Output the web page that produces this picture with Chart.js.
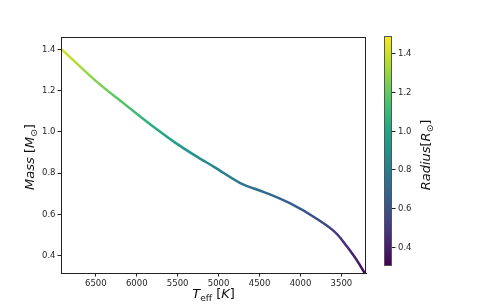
<!DOCTYPE html>
<html>
<head>
<meta charset="utf-8">
<script src="https://cdn.jsdelivr.net/npm/chart.js@4.4.1/dist/chart.umd.min.js"></script>
<style>
  body { margin: 0; background: #fff; }
  canvas { display: block; }
</style>
</head>
<body>
<canvas id="massChart" width="491" height="307"></canvas>
<script>
// effective temperature (K), stellar mass (Msun) and radius (Rsun) along the track
const teff = [6916, 6447, 6203, 5958, 5775, 5531, 5286, 5042, 4736, 4431, 4125, 3798, 3554, 3432, 3309, 3216];
const mass = [1.400, 1.229, 1.152, 1.075, 1.019, 0.948, 0.885, 0.827, 0.752, 0.706, 0.653, 0.578, 0.505, 0.444, 0.376, 0.316];
const radius = [1.42, 1.25, 1.17, 1.09, 1.03, 0.96, 0.90, 0.84, 0.76, 0.71, 0.66, 0.58, 0.51, 0.45, 0.38, 0.31];

const xTicks = [6500, 6000, 5500, 5000, 4500, 4000, 3500];
const yTicks = [0.4, 0.6, 0.8, 1.0, 1.2, 1.4];
const cbTicks = [0.4, 0.6, 0.8, 1.0, 1.2, 1.4];
const cbMin = 0.30;
const cbMax = 1.49;

// viridis colormap anchors
const viridis = ['#440154', '#482475', '#414487', '#355f8d', '#2a788e', '#21918c',
  '#22a884', '#44bf70', '#7ad151', '#bddf26', '#fde725'];

function hexToRgb(h) {
  return [parseInt(h.slice(1, 3), 16), parseInt(h.slice(3, 5), 16), parseInt(h.slice(5, 7), 16)];
}

function viridisColor(t) {
  t = Math.min(1, Math.max(0, t));
  const pos = t * (viridis.length - 1);
  const i = Math.min(viridis.length - 2, Math.floor(pos));
  const f = pos - i;
  const a = hexToRgb(viridis[i]);
  const b = hexToRgb(viridis[i + 1]);
  const c = a.map((v, k) => Math.round(v + (b[k] - v) * f));
  return 'rgb(' + c.join(',') + ')';
}

function radiusColor(r) {
  return viridisColor((r - cbMin) / (cbMax - cbMin));
}

function lineGradient(context) {
  const chart = context.chart;
  const area = chart.chartArea;
  const xScale = chart.scales.x;
  if (!area || !xScale) return radiusColor(radius[0]);
  const g = chart.ctx.createLinearGradient(area.left, 0, area.right, 0);
  teff.forEach((t, i) => {
    const p = (xScale.getPixelForValue(t) - area.left) / (area.right - area.left);
    g.addColorStop(Math.min(1, Math.max(0, p)), radiusColor(radius[i]));
  });
  return g;
}

// draw mathtext-like labels: parts = [text, style] with style 'i', 'n' or 's' (subscript)
function drawRich(ctx, parts, size) {
  const fam = '"DejaVu Sans", sans-serif';
  const fontFor = (s) => (s === 'i' ? 'italic ' : '') + (s === 's' ? size * 0.7 : size) + 'px ' + fam;
  let w = 0;
  parts.forEach(([t, s]) => { ctx.font = fontFor(s); w += ctx.measureText(t).width; });
  let x = -w / 2;
  ctx.textBaseline = 'middle';
  ctx.textAlign = 'left';
  parts.forEach(([t, s]) => {
    ctx.font = fontFor(s);
    ctx.fillText(t, x, s === 's' ? size * 0.3 : 0);
    x += ctx.measureText(t).width;
  });
}

const decorations = {
  id: 'decorations',
  afterDraw(chart) {
    const ctx = chart.ctx;
    const a = chart.chartArea;
    ctx.save();
    // frame
    ctx.strokeStyle = '#222';
    ctx.lineWidth = 1;
    ctx.strokeRect(a.left + 0.5, a.top + 0.5, a.right - a.left - 1, a.bottom - a.top);

    // colorbar
    const cbLeft = a.right + 18, cbW = 8, cbTop = a.top - 1, cbBottom = a.bottom - 7;
    const cbY = (v) => cbBottom - (v - cbMin) / (cbMax - cbMin) * (cbBottom - cbTop);
    const g = ctx.createLinearGradient(0, cbBottom, 0, cbTop);
    for (let i = 0; i <= 20; i++) g.addColorStop(i / 20, viridisColor(i / 20));
    ctx.fillStyle = g;
    ctx.fillRect(cbLeft, cbTop, cbW, cbBottom - cbTop);
    ctx.strokeStyle = '#555';
    ctx.strokeRect(cbLeft + 0.5, cbTop + 0.5, cbW - 1, cbBottom - cbTop - 1);
    ctx.fillStyle = '#262626';
    ctx.strokeStyle = '#222';
    ctx.font = '8.5px "DejaVu Sans", sans-serif';
    ctx.textAlign = 'left';
    ctx.textBaseline = 'middle';
    cbTicks.forEach((v) => {
      const y = Math.round(cbY(v)) + 0.5;
      ctx.beginPath();
      ctx.moveTo(cbLeft + cbW, y);
      ctx.lineTo(cbLeft + cbW + 3.5, y);
      ctx.stroke();
      ctx.fillText(v.toFixed(1), cbLeft + cbW + 6, y);
    });

    ctx.fillStyle = '#111';
    // colorbar label
    ctx.save();
    ctx.translate(cbLeft + 43, (cbTop + cbBottom) / 2 + 4);
    ctx.rotate(-Math.PI / 2);
    drawRich(ctx, [['Radius', 'i'], ['[', 'n'], ['R', 'i'], ['\u2299', 's'], [']', 'n']], 13);
    ctx.restore();

    // y axis title
    ctx.save();
    ctx.translate(31, (a.top + a.bottom) / 2 + 2);
    ctx.rotate(-Math.PI / 2);
    drawRich(ctx, [['Mass', 'i'], [' [', 'n'], ['M', 'i'], ['\u2299', 's'], [']', 'n']], 13);
    ctx.restore();

    // x axis title
    ctx.save();
    ctx.translate((a.left + a.right) / 2, a.bottom + 22);
    drawRich(ctx, [['T', 'i'], ['eff', 's'], [' [', 'n'], ['K', 'i'], [']', 'n']], 13);
    ctx.restore();
    ctx.restore();
  }
};

const tickFont = { family: '"DejaVu Sans", sans-serif', size: 8.5 };

new Chart(document.getElementById('massChart'), {
  type: 'line',
  data: {
    datasets: [{
      data: teff.map((t, i) => ({ x: t, y: mass[i] })),
      borderColor: lineGradient,
      borderWidth: 2.5,
      pointRadius: 0,
      cubicInterpolationMode: 'monotone',
      fill: false,
    }]
  },
  options: {
    responsive: false,
    animation: false,
    layout: { padding: { top: 37, right: 125, left: 0, bottom: 0 } },
    plugins: { legend: { display: false }, tooltip: { enabled: false } },
    scales: {
      x: {
        type: 'linear',
        reverse: true,
        min: 3200,
        max: 6925,
        afterBuildTicks: (scale) => { scale.ticks = xTicks.map((v) => ({ value: v })); },
        afterFit: (scale) => { scale.height = 34; },
        grid: { drawOnChartArea: false, drawTicks: true, tickLength: 3.5, color: '#222' },
        border: { display: true, color: '#222' },
        ticks: { font: tickFont, color: '#262626', padding: 2, maxRotation: 0, callback: (v) => String(v) }
      },
      y: {
        type: 'linear',
        min: 0.316,
        max: 1.46,
        afterBuildTicks: (scale) => { scale.ticks = yTicks.map((v) => ({ value: v })); },
        afterFit: (scale) => { scale.width = 61; },
        grid: { drawOnChartArea: false, drawTicks: true, tickLength: 3.5, color: '#222' },
        border: { display: true, color: '#222' },
        ticks: { font: tickFont, color: '#262626', padding: 2, callback: (v) => v.toFixed(1) }
      }
    }
  },
  plugins: [decorations]
});
</script>
</body>
</html>
